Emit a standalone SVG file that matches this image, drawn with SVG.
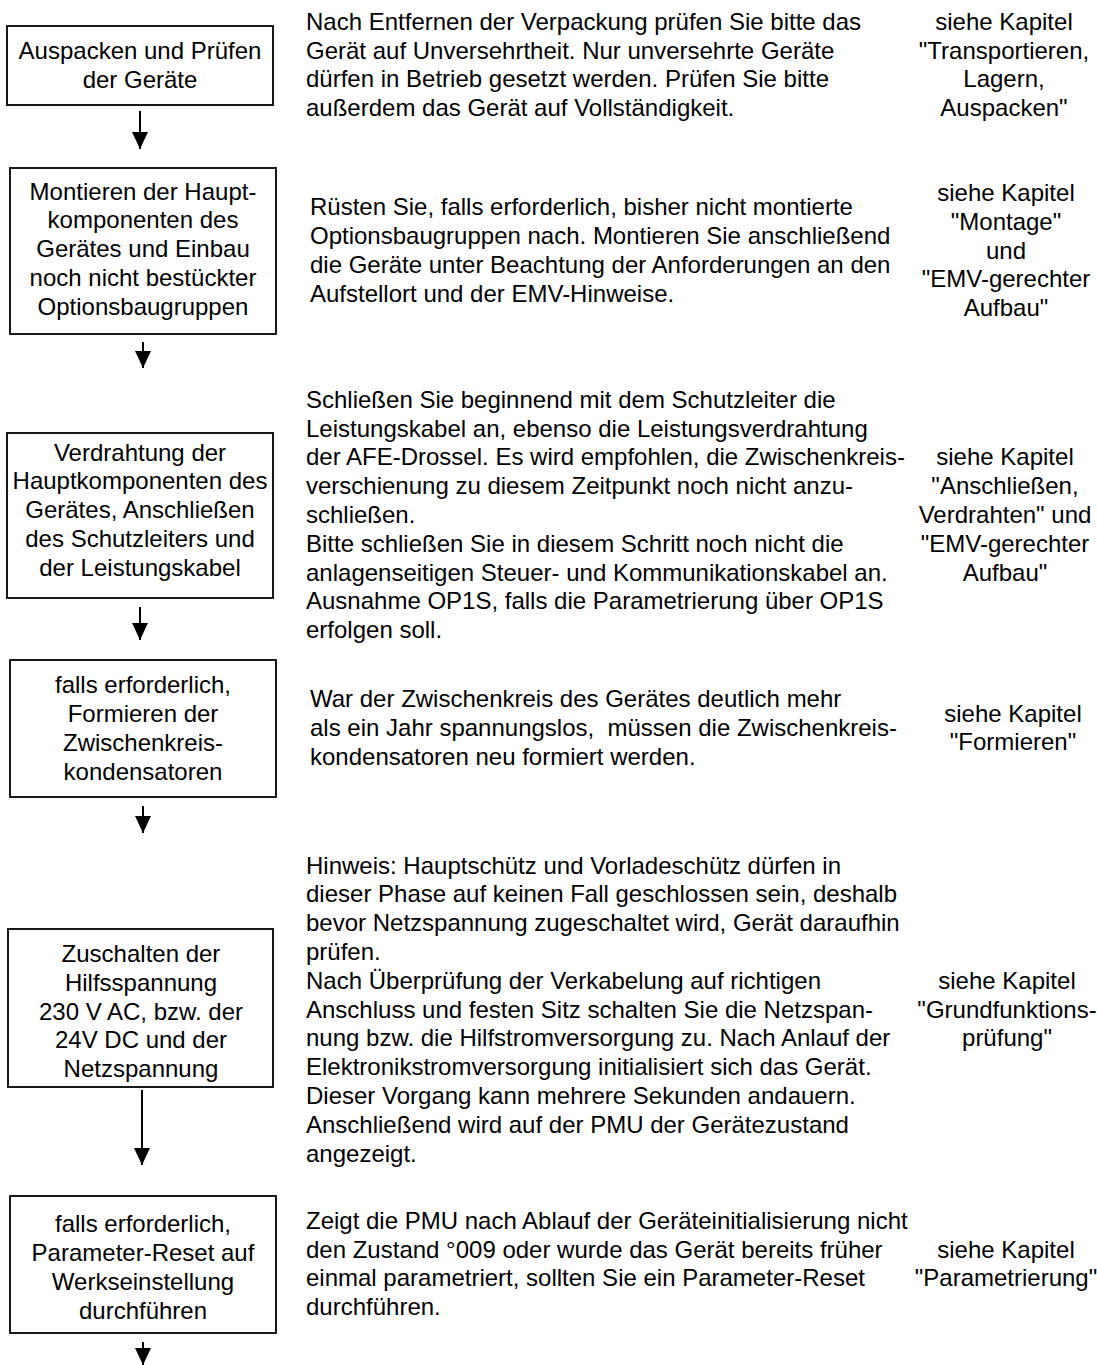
<svg xmlns="http://www.w3.org/2000/svg" width="1097" height="1365" viewBox="0 0 1097 1365">
<style>
text{font-family:"Liberation Sans",Arial,Helvetica,sans-serif;font-size:24px;fill:#000}
.box{fill:#fff;stroke:#000;stroke-width:1.8}
.c{text-anchor:middle}
.conn line{stroke:#000;stroke-width:2}
</style>
<defs>
<marker id="ah" markerUnits="userSpaceOnUse" markerWidth="18" markerHeight="17" refX="17" refY="8" orient="auto">
<path d="M0,0 L17,8 L0,16 Z" fill="#000"/>
</marker>
</defs>
<rect width="1097" height="1365" fill="#fff"/>

<g id="step1">
<rect class="box" x="7" y="26" width="266" height="79"/>
<text class="c"><tspan x="140" y="59">Auspacken und Prüfen</tspan><tspan x="140" y="88">der Geräte</tspan></text>
<text><tspan x="306" y="29.8">Nach Entfernen der Verpackung prüfen Sie bitte das</tspan><tspan x="306" y="58.6">Gerät auf Unversehrtheit. Nur unversehrte Geräte</tspan><tspan x="306" y="87.4">dürfen in Betrieb gesetzt werden. Prüfen Sie bitte</tspan><tspan x="306" y="116.2">außerdem das Gerät auf Vollständigkeit.</tspan></text>
<text class="c"><tspan x="1004" y="29.8">siehe Kapitel</tspan><tspan x="1004" y="58.6">"Transportieren,</tspan><tspan x="1004" y="87.4">Lagern,</tspan><tspan x="1004" y="116.2">Auspacken"</tspan></text>
</g>

<g id="step2">
<rect class="box" x="10" y="168" width="266" height="166"/>
<text class="c"><tspan x="143" y="199.5">Montieren der Haupt-</tspan><tspan x="143" y="228.3">komponenten des</tspan><tspan x="143" y="257.1">Gerätes und Einbau</tspan><tspan x="143" y="285.9">noch nicht bestückter</tspan><tspan x="143" y="314.7">Optionsbaugruppen</tspan></text>
<text><tspan x="310" y="215.3">Rüsten Sie, falls erforderlich, bisher nicht montierte</tspan><tspan x="310" y="244.1">Optionsbaugruppen nach. Montieren Sie anschließend</tspan><tspan x="310" y="272.9">die Geräte unter Beachtung der Anforderungen an den</tspan><tspan x="310" y="301.7">Aufstellort und der EMV-Hinweise.</tspan></text>
<text class="c"><tspan x="1006" y="200.9">siehe Kapitel</tspan><tspan x="1006" y="229.7">"Montage"</tspan><tspan x="1006" y="258.5">und</tspan><tspan x="1006" y="287.3">"EMV-gerechter</tspan><tspan x="1006" y="316.1">Aufbau"</tspan></text>
</g>

<g id="step3">
<rect class="box" x="7" y="433" width="266" height="165"/>
<text class="c"><tspan x="140" y="460.5">Verdrahtung der</tspan><tspan x="140" y="489.3">Hauptkomponenten des</tspan><tspan x="140" y="518.1">Gerätes, Anschließen</tspan><tspan x="140" y="546.9">des Schutzleiters und</tspan><tspan x="140" y="575.7">der Leistungskabel</tspan></text>
<text><tspan x="306" y="407.8">Schließen Sie beginnend mit dem Schutzleiter die</tspan><tspan x="306" y="436.6">Leistungskabel an, ebenso die Leistungsverdrahtung</tspan><tspan x="306" y="465.4">der AFE-Drossel. Es wird empfohlen, die Zwischenkreis-</tspan><tspan x="306" y="494.2">verschienung zu diesem Zeitpunkt noch nicht anzu-</tspan><tspan x="306" y="523">schließen.</tspan><tspan x="306" y="551.8">Bitte schließen Sie in diesem Schritt noch nicht die</tspan><tspan x="306" y="580.6">anlagenseitigen Steuer- und Kommunikationskabel an.</tspan><tspan x="306" y="609.4">Ausnahme OP1S, falls die Parametrierung über OP1S</tspan><tspan x="306" y="638.2">erfolgen soll.</tspan></text>
<text class="c"><tspan x="1005" y="465.4">siehe Kapitel</tspan><tspan x="1005" y="494.2">"Anschließen,</tspan><tspan x="1005" y="523">Verdrahten" und</tspan><tspan x="1005" y="551.8">"EMV-gerechter</tspan><tspan x="1005" y="580.6">Aufbau"</tspan></text>
</g>

<g id="step4">
<rect class="box" x="10" y="660" width="266" height="137"/>
<text class="c"><tspan x="143" y="693">falls erforderlich,</tspan><tspan x="143" y="722">Formieren der</tspan><tspan x="143" y="751">Zwischenkreis-</tspan><tspan x="143" y="779.5">kondensatoren</tspan></text>
<text xml:space="preserve"><tspan x="310" y="707.2">War der Zwischenkreis des Gerätes deutlich mehr</tspan><tspan x="310" y="736">als ein Jahr spannungslos,  müssen die Zwischenkreis-</tspan><tspan x="310" y="764.8">kondensatoren neu formiert werden.</tspan></text>
<text class="c"><tspan x="1013" y="721.6">siehe Kapitel</tspan><tspan x="1013" y="750.4">"Formieren"</tspan></text>
</g>

<g id="step5">
<rect class="box" x="8" y="929" width="265" height="158"/>
<text class="c"><tspan x="141" y="962">Zuschalten der</tspan><tspan x="141" y="990.8">Hilfsspannung</tspan><tspan x="141" y="1019.6">230 V AC, bzw. der</tspan><tspan x="141" y="1048.4">24V DC und der</tspan><tspan x="141" y="1077.2">Netzspannung</tspan></text>
<text><tspan x="306" y="873.5">Hinweis: Hauptschütz und Vorladeschütz dürfen in</tspan><tspan x="306" y="902.3">dieser Phase auf keinen Fall geschlossen sein, deshalb</tspan><tspan x="306" y="931.1">bevor Netzspannung zugeschaltet wird, Gerät daraufhin</tspan><tspan x="306" y="959.9">prüfen.</tspan><tspan x="306" y="988.7">Nach Überprüfung der Verkabelung auf richtigen</tspan><tspan x="306" y="1017.5">Anschluss und festen Sitz schalten Sie die Netzspan-</tspan><tspan x="306" y="1046.3">nung bzw. die Hilfstromversorgung zu. Nach Anlauf der</tspan><tspan x="306" y="1075.1">Elektronikstromversorgung initialisiert sich das Gerät.</tspan><tspan x="306" y="1103.9">Dieser Vorgang kann mehrere Sekunden andauern.</tspan><tspan x="306" y="1132.7">Anschließend wird auf der PMU der Gerätezustand</tspan><tspan x="306" y="1161.5">angezeigt.</tspan></text>
<text class="c"><tspan x="1007" y="988.7">siehe Kapitel</tspan><tspan x="1007" y="1017.5">"Grundfunktions-</tspan><tspan x="1007" y="1046.3">prüfung"</tspan></text>
</g>

<g id="step6">
<rect class="box" x="10" y="1196" width="266" height="137"/>
<text class="c"><tspan x="143" y="1232">falls erforderlich,</tspan><tspan x="143" y="1261">Parameter-Reset auf</tspan><tspan x="143" y="1290">Werkseinstellung</tspan><tspan x="143" y="1318.5">durchführen</tspan></text>
<text><tspan x="306" y="1228.8">Zeigt die PMU nach Ablauf der Geräteinitialisierung nicht</tspan><tspan x="306" y="1257.6">den Zustand °009 oder wurde das Gerät bereits früher</tspan><tspan x="306" y="1286.4">einmal parametriert, sollten Sie ein Parameter-Reset</tspan><tspan x="306" y="1315.2">durchführen.</tspan></text>
<text class="c"><tspan x="1006" y="1257.6">siehe Kapitel</tspan><tspan x="1006" y="1286.4">"Parametrierung"</tspan></text>
</g>

<g id="connectors" class="conn">
<line x1="140" y1="111" x2="140" y2="149" marker-end="url(#ah)"/>
<line x1="143" y1="342" x2="143" y2="368" marker-end="url(#ah)"/>
<line x1="140" y1="607" x2="140" y2="640" marker-end="url(#ah)"/>
<line x1="143" y1="806" x2="143" y2="833" marker-end="url(#ah)"/>
<line x1="142" y1="1090" x2="142" y2="1165" marker-end="url(#ah)"/>
<line x1="143" y1="1342" x2="143" y2="1365" marker-end="url(#ah)"/>
</g>
</svg>
